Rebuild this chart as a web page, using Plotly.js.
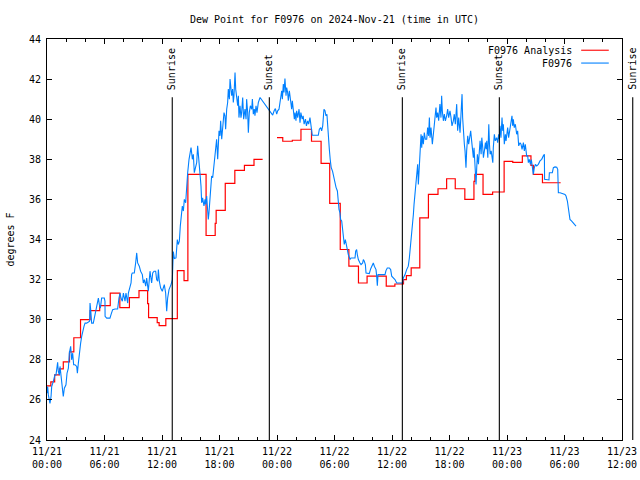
<!DOCTYPE html>
<html>
<head>
<meta charset="utf-8">
<script src="https://cdn.plot.ly/plotly-3.0.1.min.js"></script>
<style>html,body{margin:0;padding:0;background:#fff;}#chart{width:640px;height:480px;}</style>
</head>
<body>
<div id="chart"></div>
<script>
// ---- Data (hours after 2024-11-21 00:00 UTC) ----
const obsHours = [0.0,0.07,0.14,0.31,0.42,0.49,0.66,0.83,0.94,1.01,1.11,1.18,1.29,1.36,1.46,1.53,1.63,1.70,1.81,1.88,1.98,2.09,2.23,2.33,2.47,2.57,2.68,2.78,2.92,3.10,3.17,3.27,3.37,3.51,3.62,3.72,3.86,3.97,4.14,4.45,4.49,4.56,4.66,4.83,4.94,5.08,5.18,5.25,5.36,5.46,5.57,5.70,5.98,6.05,6.06,6.23,6.57,6.68,6.85,7.10,7.37,7.51,7.62,7.72,7.86,7.97,8.07,8.14,8.24,8.35,8.42,8.49,8.66,8.77,8.83,8.90,9.11,9.18,9.25,9.36,9.46,9.63,9.77,9.95,10.05,10.16,10.30,10.40,10.57,10.75,10.85,10.92,11.03,11.17,11.34,11.44,11.55,11.62,11.72,11.86,12.03,12.14,12.24,12.38,12.42,12.49,12.59,12.73,12.94,13.08,13.18,13.29,13.46,13.60,13.70,13.81,13.91,14.05,14.12,14.23,14.33,14.47,14.57,14.68,14.82,14.92,15.03,15.17,15.27,15.37,15.51,15.62,15.72,15.79,15.86,15.97,16.07,16.14,16.24,16.38,16.49,16.56,16.66,16.77,16.83,16.90,17.01,17.11,17.18,17.29,17.39,17.53,17.60,17.70,17.81,17.88,17.95,18.05,18.12,18.23,18.33,18.47,18.57,18.64,18.75,18.85,18.92,19.03,19.10,19.20,19.27,19.37,19.44,19.51,19.62,19.69,19.79,19.90,19.97,20.03,20.14,20.24,20.31,20.42,20.52,20.66,20.77,20.83,20.94,21.01,21.11,21.22,21.36,21.43,21.53,21.63,21.70,21.81,21.91,22.05,22.23,23.55,23.70,23.83,23.97,24.07,24.21,24.31,24.42,24.49,24.56,24.66,24.73,24.83,24.94,25.01,25.11,25.18,25.29,25.43,25.53,25.60,25.70,25.81,25.88,25.98,26.05,26.16,26.30,26.40,26.49,26.63,26.73,26.83,26.97,27.07,27.20,27.30,27.44,27.54,27.68,28.31,28.42,28.56,28.66,28.77,28.90,29.01,29.11,29.21,29.29,29.36,29.46,29.55,29.65,29.80,29.95,30.05,30.16,30.30,30.40,30.47,30.57,30.64,30.75,30.85,30.92,31.02,31.13,31.20,31.27,31.34,31.44,31.55,31.62,31.72,32.14,32.21,32.31,32.38,32.49,32.66,32.77,32.94,33.01,33.11,33.22,33.29,33.63,33.77,33.91,34.05,34.16,34.33,34.40,34.47,34.54,35.27,35.37,35.51,35.72,35.86,35.97,36.14,36.31,36.49,37.11,37.18,37.36,37.53,37.70,37.81,37.88,37.98,38.12,38.23,38.30,38.40,38.50,38.57,38.68,38.75,38.82,38.92,39.03,39.10,39.17,39.27,39.37,39.48,39.62,39.72,39.82,39.90,39.97,40.07,40.21,40.31,40.42,40.52,40.59,40.66,40.77,40.87,40.94,41.00,41.11,41.18,41.25,41.36,41.46,41.57,41.70,41.81,41.91,42.05,42.16,42.26,42.40,42.50,42.61,42.75,42.85,42.96,43.10,43.20,43.31,43.37,43.44,43.55,43.62,43.72,43.79,43.90,44.00,44.07,44.21,44.31,44.42,44.49,44.56,44.63,44.70,44.77,44.84,44.91,45.02,45.12,45.19,45.30,45.37,45.47,45.54,45.64,45.75,45.82,45.89,46.00,46.10,46.17,46.24,46.35,46.45,46.52,46.57,46.68,46.78,46.92,47.03,47.13,47.20,47.27,47.37,47.48,47.55,47.62,47.72,47.83,47.90,47.97,48.07,48.17,48.31,48.42,48.52,48.59,48.66,48.76,48.87,49.01,49.11,49.22,49.36,49.46,49.57,49.71,49.81,49.91,50.05,50.16,50.23,50.33,50.44,50.54,50.64,50.75,50.85,50.96,51.10,51.27,51.44,51.62,51.79,51.90,51.92,52.14,52.38,52.42,52.73,52.84,53.01,53.19,53.29,53.36,53.54,54.05,54.16,54.30,54.40,54.57,54.75,55.10,55.20];
const obsDewF = [26.33,26.67,26.25,25.83,26.17,26.67,26.92,27.25,27.25,27.67,27.87,27.42,27.25,27.67,27.25,26.83,26.5,26.17,26.58,26.67,26.75,27.33,27.58,28.33,28.67,28.0,28.33,27.75,27.75,27.67,27.33,27.83,28.33,28.83,29.17,29.42,29.67,29.83,29.83,29.92,30.83,30.5,29.83,29.83,30.08,30.42,30.67,30.92,31.08,30.75,30.58,31.08,31.08,30.92,30.17,30.08,30.08,30.25,30.5,30.53,30.53,31.08,31.33,31.08,30.92,31.33,31.08,30.92,31.33,31.08,30.83,31.33,31.67,31.83,32.25,32.33,32.33,32.75,32.83,33.33,32.83,32.67,32.42,32.25,31.83,32.0,31.67,32.08,31.42,32.42,32.0,31.83,32.33,32.42,32.42,32.0,31.92,32.5,31.92,31.58,31.42,31.67,31.75,31.33,31.0,30.42,31.08,31.5,31.75,32.0,33.4,33.05,33.08,34.0,33.75,33.92,34.67,35.17,35.67,35.42,36.0,35.83,36.67,37.33,38.0,38.33,38.58,38.0,38.25,37.33,37.67,37.83,38.67,38.17,37.5,37.25,36.67,35.83,36.08,35.67,36.0,35.75,36.17,35.33,35.0,35.33,36.0,36.33,37.17,37.08,37.58,38.17,38.5,39.0,38.0,39.17,39.42,39.17,39.92,39.0,39.67,40.33,40.17,39.5,40.5,40.83,41.5,41.0,42.0,41.33,41.17,41.5,40.83,41.17,42.33,41.5,40.92,40.67,41.17,40.08,40.67,40.08,40.33,41.08,40.0,40.5,40.0,41.0,40.33,39.33,40.33,40.67,40.5,41.0,40.25,40.5,40.17,40.67,40.33,40.83,41.08,40.2,40.42,40.53,40.25,40.42,40.5,40.92,41.17,41.42,41.0,41.75,41.33,42.03,41.17,41.58,41.33,40.92,41.42,41.0,40.5,40.92,40.5,40.0,40.33,39.92,40.42,40.08,40.5,39.83,40.33,40.0,40.17,39.75,40.0,39.67,39.92,39.75,40.08,39.67,39.2,39.2,39.5,39.58,39.42,39.67,40.5,40.42,40.17,40.25,39.5,38.8,38.5,38.0,37.6,37.4,37.0,36.8,36.6,36.42,35.83,35.5,35.33,35.0,34.92,34.5,34.0,33.75,34.0,33.75,33.58,33.5,33.25,33.08,33.0,33.08,33.08,33.42,33.5,33.25,33.0,32.83,32.75,32.83,33.0,32.92,32.75,32.33,32.3,32.53,32.67,32.83,32.67,32.5,32.17,31.7,32.25,32.25,32.45,32.58,32.58,32.5,32.17,32.08,32.0,31.83,31.83,32.08,32.25,32.5,32.67,33.08,33.42,33.92,34.42,35.25,35.75,36.25,36.92,37.25,37.75,36.75,37.75,38.25,39.25,38.58,39.17,38.75,39.33,39.0,39.0,39.58,39.17,40.08,39.08,39.58,38.75,39.42,39.75,40.25,40.58,40.08,40.33,39.92,40.25,40.75,40.08,41.17,40.42,39.92,40.25,39.92,40.17,40.5,40.08,40.42,40.08,39.67,39.92,40.25,39.75,40.75,39.42,40.08,39.33,40.42,41.25,40.08,39.25,38.75,38.42,37.58,38.42,39.17,38.75,39.08,39.42,38.92,38.42,38.08,38.58,37.92,37.25,36.75,37.58,38.25,37.75,38.58,38.92,38.25,39.08,38.58,38.08,38.42,38.83,38.5,38.92,38.08,39.75,38.75,38.25,38.42,38.08,37.83,38.58,39.25,38.92,39.08,38.83,39.25,39.0,39.67,39.08,40.08,39.42,39.75,38.75,39.25,38.92,39.42,39.58,39.08,39.58,39.75,40.17,39.67,40.0,39.58,39.75,39.25,39.42,38.67,38.83,38.75,38.5,38.83,38.42,38.75,38.17,38.17,37.83,38.0,37.75,37.99,37.5,37.25,37.58,37.75,37.67,37.75,37.92,38.0,38.17,38.25,37.0,36.97,36.97,37.33,37.33,37.58,37.62,37.6,37.5,36.33,36.33,36.25,36.17,35.92,35.5,35.0,34.92,34.75,34.67];

const anaHours = [0.0,0.4,0.8,1.3,1.7,2.35,2.8,3.5,4.5,5.5,6.6,7.6,8.6,9.6,10.5,10.6,11.5,11.7,12.4,13.6,14.3,14.7,16.6,17.55,17.65,18.6,19.6,20.6,21.6,22.5,23.0,24.0,24.6,25.6,26.5,27.6,28.6,29.5,30.6,31.5,32.5,33.4,35.4,36.3,37.2,37.5,38.0,38.9,39.8,40.8,41.7,42.6,43.6,44.55,44.65,45.5,46.5,47.7,48.6,49.6,50.5,50.75,51.7,53.6];
const anaDewF = [26.7,26.9,27.25,27.55,27.9,28.4,29.1,30.0,30.45,30.7,31.33,30.6,31.1,31.45,30.8,30.1,29.85,29.7,30.05,32.45,31.95,37.25,34.2,34.8,35.45,36.8,37.45,37.7,38.0,38.0,null,39.08,38.9,38.95,39.5,38.9,37.8,35.8,33.5,32.67,31.83,32.17,31.67,31.78,32.0,32.2,32.58,35.08,36.25,36.53,37.03,36.53,36.0,36.9,37.25,36.25,36.37,37.9,37.85,38.17,37.7,37.25,36.83,36.83];

const sunEventHours = [13.07, 23.2, 37.08, 47.2, 61.12];
const sunEventLabels = ['Sunrise', 'Sunset', 'Sunrise', 'Sunset', 'Sunrise'];

const xTickHours = [0, 6, 12, 18, 24, 30, 36, 42, 48, 54, 60];
const xTickLabels = ['11/21<br>00:00','11/21<br>06:00','11/21<br>12:00','11/21<br>18:00','11/22<br>00:00','11/22<br>06:00','11/22<br>12:00','11/22<br>18:00','11/23<br>00:00','11/23<br>06:00','11/23<br>12:00'];
const xRangeHours = [0, 60];
const yRange = [24, 44];

const seriesNames = ['F0976 Analysis', 'F0976'];
const seriesColors = ['#ff0000', '#0080ff'];
const chartTitle = 'Dew Point for F0976 on 2024-Nov-21 (time in UTC)';
const yTitle = 'degrees F';

// ---- helpers ----
const T0 = Date.UTC(2024, 10, 21, 0, 0, 0);
function hToDate(h) {
  const d = new Date(T0 + Math.round(h * 3600000));
  return d.toISOString().slice(0, 19).replace('T', ' ');
}
function hToPaper(h) {
  return (h - xRangeHours[0]) / (xRangeHours[1] - xRangeHours[0]);
}

const FONT = 'DejaVu Sans Mono';

const traces = [
  {
    x: anaHours.map(hToDate), y: anaDewF, type: 'scatter', mode: 'lines',
    name: seriesNames[0], line: {color: seriesColors[0], width: 1.2, shape: 'hv'},
    connectgaps: false, showlegend: false
  },
  {
    x: obsHours.map(hToDate), y: obsDewF, type: 'scatter', mode: 'lines',
    name: seriesNames[1], line: {color: seriesColors[1], width: 1.1},
    showlegend: false
  }
];

const shapes = [];
const annotations = [];
sunEventHours.forEach((h, i) => {
  const px = hToPaper(h);
  shapes.push({type: 'line', xref: 'paper', yref: 'paper', x0: px, x1: px, y0: 0, y1: 0.855,
    line: {color: 'black', width: 1.1}, layer: 'above'});
  annotations.push({xref: 'paper', yref: 'paper', x: px, y: 0.868, xanchor: 'center', yanchor: 'bottom',
    text: sunEventLabels[i], textangle: -90, showarrow: false, font: {family: FONT, size: 10, color: 'black'}});
});

// legend drawn gnuplot-style (text then line sample)
const legendY = [0.972, 0.940];
seriesNames.forEach((n, i) => {
  annotations.push({xref: 'paper', yref: 'paper', x: 0.917, y: legendY[i], xanchor: 'right', yanchor: 'middle',
    text: n, showarrow: false, font: {family: FONT, size: 10, color: 'black'}});
  shapes.push({type: 'line', xref: 'paper', yref: 'paper', x0: 0.929, x1: 0.977, y0: legendY[i], y1: legendY[i],
    line: {color: seriesColors[i], width: 1.1}});
});

const layout = {
  width: 640, height: 480,
  margin: {l: 47, r: 18, t: 39, b: 40, pad: 0},
  paper_bgcolor: 'white', plot_bgcolor: 'white',
  font: {family: FONT, size: 10, color: 'black'},
  title: {text: chartTitle, x: 0.5, xref: 'paper', xanchor: 'center', y: 1 - 19 / 480, yref: 'container', yanchor: 'middle',
    font: {family: FONT, size: 10, color: 'black'}},
  xaxis: {
    type: 'date', range: xRangeHours.map(hToDate),
    tickmode: 'array', tickvals: xTickHours.map(hToDate), ticktext: xTickLabels,
    ticks: 'inside', ticklen: 5, tickwidth: 1, tickcolor: 'black',
    showline: true, linecolor: 'black', linewidth: 1, mirror: 'ticks',
    showgrid: false, zeroline: false, automargin: false,
    ticklabelstandoff: 2,
    tickfont: {family: FONT, size: 10, color: 'black'},
    minor: {tickmode: 'linear', tick0: hToDate(0), dtick: 2 * 3600000, ticks: 'inside', ticklen: 3, tickcolor: 'black', showgrid: false}
  },
  yaxis: {
    range: yRange, tickmode: 'linear', tick0: 24, dtick: 2,
    ticks: 'inside', ticklen: 5, tickwidth: 1, tickcolor: 'black',
    showline: true, linecolor: 'black', linewidth: 1, mirror: 'ticks',
    showgrid: false, zeroline: false, automargin: false,
    ticklabelstandoff: 3,
    tickfont: {family: FONT, size: 10, color: 'black'},
    title: {text: yTitle, font: {family: FONT, size: 10, color: 'black'}, standoff: 12}
  },
  shapes: shapes,
  annotations: annotations,
  showlegend: false
};

Plotly.newPlot('chart', traces, layout, {displayModeBar: false, staticPlot: true});
</script>
</body>
</html>
